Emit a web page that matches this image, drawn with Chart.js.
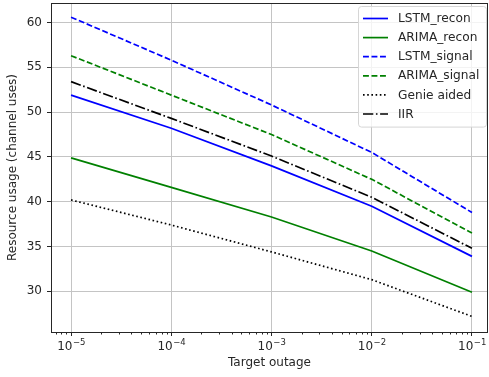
<!DOCTYPE html>
<html>
<head>
<meta charset="utf-8">
<script src="https://cdn.jsdelivr.net/npm/chart.js@4/dist/chart.umd.min.js"></script>
<style>
  html, body { margin: 0; padding: 0; background: #fff; }
  #wrap { width: 489px; height: 377px; }
</style>
</head>
<body>
<div id="wrap"><canvas id="outageChart"></canvas></div>
<script>
// target outage levels (x) and resource usage per method (y)
const outages = [1e-5, 1e-4, 1e-3, 1e-2, 1e-1];
const lstmRecon = [51.9, 48.2, 44.0, 39.5, 33.9];
const arimaRecon = [44.9, 41.6, 38.3, 34.5, 29.9];
const lstmSignal = [60.6, 55.8, 50.8, 45.5, 38.8];
const arimaSignal = [56.3, 51.9, 47.5, 42.5, 36.5];
const genieAided = [40.2, 37.4, 34.4, 31.3, 27.2];
const iir = [53.4, 49.3, 45.1, 40.5, 34.8];

// x tick labels: base and exponent (drawn as 10 with raised exponent)
const xTickExps = ["−5", "−4", "−3", "−2", "−1"];
const yTicks = [30, 35, 40, 45, 50, 55, 60];

const FONT = "'DejaVu Sans', sans-serif";
const TEXT = "#262626";

function toPoints(arr) {
  return arr.map((y, i) => ({ x: outages[i], y: y }));
}

function makeSet(label, values, color, dash) {
  return {
    label: label,
    data: toPoints(values),
    borderColor: color,
    backgroundColor: color,
    borderWidth: 1.7,
    borderDash: dash,
    pointRadius: 0,
    fill: false,
    tension: 0,
  };
}

const DASHED = [5.9, 2.6];
const DOTTED = [1.6, 2.6];
const DASHDOT = [10.3, 2.6, 1.6, 2.6];

// frame, minor log ticks and 10^n labels
const framePlugin = {
  id: "frame",
  afterDraw(chart) {
    const ctx = chart.ctx;
    const a = chart.chartArea;
    const xs = chart.scales.x;
    ctx.save();
    ctx.strokeStyle = TEXT;
    ctx.lineWidth = 1;
    ctx.setLineDash([]);
    ctx.strokeRect(a.left + 0.5, a.top + 0.5, a.right - a.left - 1, a.bottom - a.top);
    // minor ticks
    for (let d = -6; d <= 0; d++) {
      for (let m = 2; m <= 9; m++) {
        const v = m * Math.pow(10, d);
        if (v < xs.min || v > xs.max) continue;
        const px = Math.round(xs.getPixelForValue(v)) + 0.5;
        ctx.beginPath();
        ctx.moveTo(px, a.bottom);
        ctx.lineTo(px, a.bottom + 2.5);
        ctx.stroke();
      }
    }
    // tick labels with superscript
    ctx.fillStyle = TEXT;
    ctx.textBaseline = "alphabetic";
    ctx.textAlign = "left";
    outages.forEach((v, i) => {
      const px = xs.getPixelForValue(v);
      ctx.font = "12px " + FONT;
      const baseW = ctx.measureText("10").width;
      ctx.font = "8.5px " + FONT;
      const expW = ctx.measureText(xTickExps[i]).width;
      const x0 = px - (baseW + expW) / 2;
      const by = a.bottom + 18;
      ctx.font = "12px " + FONT;
      ctx.fillText("10", x0, by);
      ctx.font = "8.5px " + FONT;
      ctx.fillText(xTickExps[i], x0 + baseW + 0.5, by - 5);
    });
    ctx.restore();
  },
};

// legend box drawn inside the plot, top right
const legendPlugin = {
  id: "insideLegend",
  afterDraw(chart) {
    const ctx = chart.ctx;
    const a = chart.chartArea;
    const sets = chart.data.datasets;
    const boxW = 128;
    const rowH = 19.1;
    const boxH = sets.length * rowH + 6;
    const left = a.right - boxW - 2;
    const top = a.top + 3;
    ctx.save();
    ctx.beginPath();
    ctx.roundRect(left + 0.5, top + 0.5, boxW, boxH, 3);
    ctx.fillStyle = "rgba(255,255,255,0.8)";
    ctx.fill();
    ctx.strokeStyle = "#d6d6d6";
    ctx.lineWidth = 1;
    ctx.stroke();
    ctx.font = "12.2px " + FONT;
    ctx.textBaseline = "middle";
    sets.forEach((ds, i) => {
      const cy = top + 12.5 + i * rowH;
      ctx.beginPath();
      ctx.setLineDash(ds.borderDash || []);
      ctx.strokeStyle = ds.borderColor;
      ctx.lineWidth = ds.borderWidth;
      ctx.moveTo(left + 5, cy);
      ctx.lineTo(left + 30, cy);
      ctx.stroke();
      ctx.setLineDash([]);
      ctx.fillStyle = TEXT;
      ctx.fillText(ds.label, left + 40, cy + 0.5);
    });
    ctx.restore();
  },
};

const ctx = document.getElementById("outageChart").getContext("2d");

let outageChart = new Chart(ctx, {
  type: "line",
  data: {
    datasets: [
      makeSet("LSTM_recon", lstmRecon, "#0000ff", []),
      makeSet("ARIMA_recon", arimaRecon, "#008000", []),
      makeSet("LSTM_signal", lstmSignal, "#0000ff", DASHED),
      makeSet("ARIMA_signal", arimaSignal, "#008000", DASHED),
      makeSet("Genie aided", genieAided, "#000000", DOTTED),
      makeSet("IIR", iir, "#000000", DASHDOT),
    ],
  },
  options: {
    responsive: true,
    maintainAspectRatio: false,
    animation: false,
    layout: { padding: { top: 3, right: 1, left: 0, bottom: 0 } },
    scales: {
      x: {
        type: "logarithmic",
        min: Math.pow(10, -5.2),
        max: Math.pow(10, -0.84),
        afterBuildTicks: (scale) => {
          scale.ticks = outages.map((v) => ({ value: v, major: true }));
        },
        afterFit: (scale) => {
          scale.height = 45;
          scale.paddingLeft = 0;
          scale.paddingRight = 0;
        },
        border: { display: false },
        grid: {
          color: "#c4c4c4",
          lineWidth: 1,
          tickColor: TEXT,
          tickLength: 4,
        },
        ticks: {
          autoSkip: false,
          maxRotation: 0,
          padding: 2,
          color: "rgba(0,0,0,0)",
          font: { family: FONT, size: 12 },
          callback: () => "10",
        },
        title: {
          display: true,
          text: "Target outage",
          color: TEXT,
          font: { family: FONT, size: 12 },
          padding: { top: 0, bottom: 7 },
        },
      },
      y: {
        type: "linear",
        min: 25.46,
        max: 62.18,
        afterBuildTicks: (scale) => {
          scale.ticks = yTicks.map((v) => ({ value: v }));
        },
        afterFit: (scale) => {
          scale.width = 51;
          scale.paddingTop = 0;
          scale.paddingBottom = 0;
        },
        border: { display: false },
        grid: {
          color: "#c4c4c4",
          lineWidth: 1,
          tickColor: TEXT,
          tickLength: 4,
        },
        ticks: {
          padding: 5,
          color: TEXT,
          font: { family: FONT, size: 12 },
        },
        title: {
          display: true,
          text: "Resource usage (channel uses)",
          color: TEXT,
          font: { family: FONT, size: 12 },
          padding: { top: 6, bottom: 0 },
        },
      },
    },
    plugins: {
      legend: { display: false },
      tooltip: { enabled: false },
    },
  },
  plugins: [framePlugin, legendPlugin],
});
</script>
</body>
</html>
